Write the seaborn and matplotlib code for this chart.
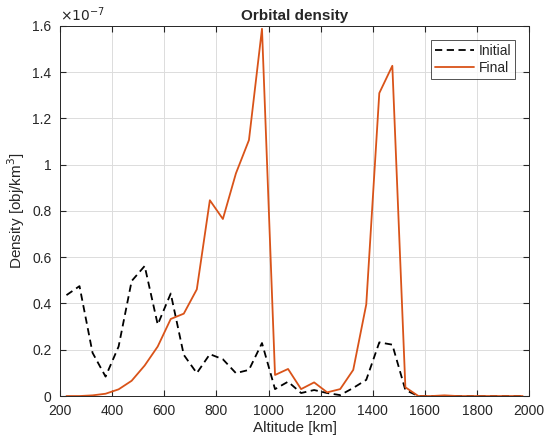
import matplotlib
matplotlib.use("Agg")
import matplotlib.pyplot as plt
import seaborn as sns
import pandas as pd
from matplotlib.ticker import FuncFormatter, MultipleLocator

# bin centres [km]
altitude = list(range(225, 2000, 50))

# densities in units of 1e-7 obj/km^3
initial = [0.436, 0.475, 0.187, 0.084, 0.214, 0.497, 0.562, 0.309, 0.443, 0.178,
           0.099, 0.181, 0.159, 0.099, 0.113, 0.229, 0.030, 0.062, 0.013, 0.026,
           0.013, 0.004, 0.035, 0.070, 0.232, 0.222, 0.026, 0.0, 0.0, 0.0,
           0.0, 0.0, 0.0, 0.0, 0.0, 0.0]
final = [0.0, 0.0, 0.003, 0.010, 0.029, 0.066, 0.132, 0.214, 0.333, 0.356,
         0.461, 0.846, 0.765, 0.962, 1.106, 1.587, 0.091, 0.117, 0.030, 0.059,
         0.016, 0.030, 0.113, 0.396, 1.309, 1.427, 0.038, 0.0, 0.0, 0.003,
         0.0, 0.0, 0.0, 0.0, 0.0, 0.0]

df = pd.DataFrame({
    "Altitude": altitude * 2,
    "Density": [v * 1e-7 for v in initial + final],
    "Series": ["Initial"] * len(altitude) + ["Final"] * len(altitude),
})

sns.set_style("white")
plt.rcParams["font.family"] = ["Liberation Sans", "DejaVu Sans"]

fig = plt.figure(figsize=(5.45, 4.44), dpi=100)
ax = fig.add_axes([0.110, 0.108, 0.861, 0.834])

sns.lineplot(data=df, x="Altitude", y="Density", hue="Series", style="Series",
             palette={"Initial": "black", "Final": "#D95319"},
             dashes={"Initial": (4, 2.5), "Final": ""},
             linewidth=1.3, ax=ax)

ax.set_xlim(200, 2000)
ax.set_ylim(0, 1.6e-7)
ax.xaxis.set_major_locator(MultipleLocator(200))
ax.yaxis.set_major_locator(MultipleLocator(0.2e-7))
ax.yaxis.set_major_formatter(FuncFormatter(lambda v, p: f"{v / 1e-7:g}"))
ax.text(0.0, 1.005, r"$\times10^{-7}$", transform=ax.transAxes,
        fontsize=10, color="#262626", va="bottom", ha="left")

ax.grid(True, color="#dcdcdc", linewidth=0.7)
ax.tick_params(direction="in", length=4, labelsize=10, colors="#262626",
               top=True, right=True, bottom=True, left=True)
ax.tick_params(axis="x", pad=6)
ax.tick_params(axis="y", pad=6)
for s in ax.spines.values():
    s.set_color("#262626")
    s.set_linewidth(0.7)

ax.set_title("Orbital density", fontsize=11, fontweight="bold", pad=4)
ax.set_xlabel("Altitude [km]", fontsize=11, color="#262626", labelpad=2)
ax.set_ylabel("Density [obj/km$^3$]", fontsize=11, color="#262626")

leg = ax.legend(loc="upper right", fontsize=10, frameon=True, fancybox=False,
                handlelength=2.8, handletextpad=0.3, labelspacing=0.2,
                borderpad=0.3, borderaxespad=1.0)
leg.get_frame().set_edgecolor("#262626")
leg.get_frame().set_linewidth(0.7)

fig.savefig("out.png", dpi=100)
